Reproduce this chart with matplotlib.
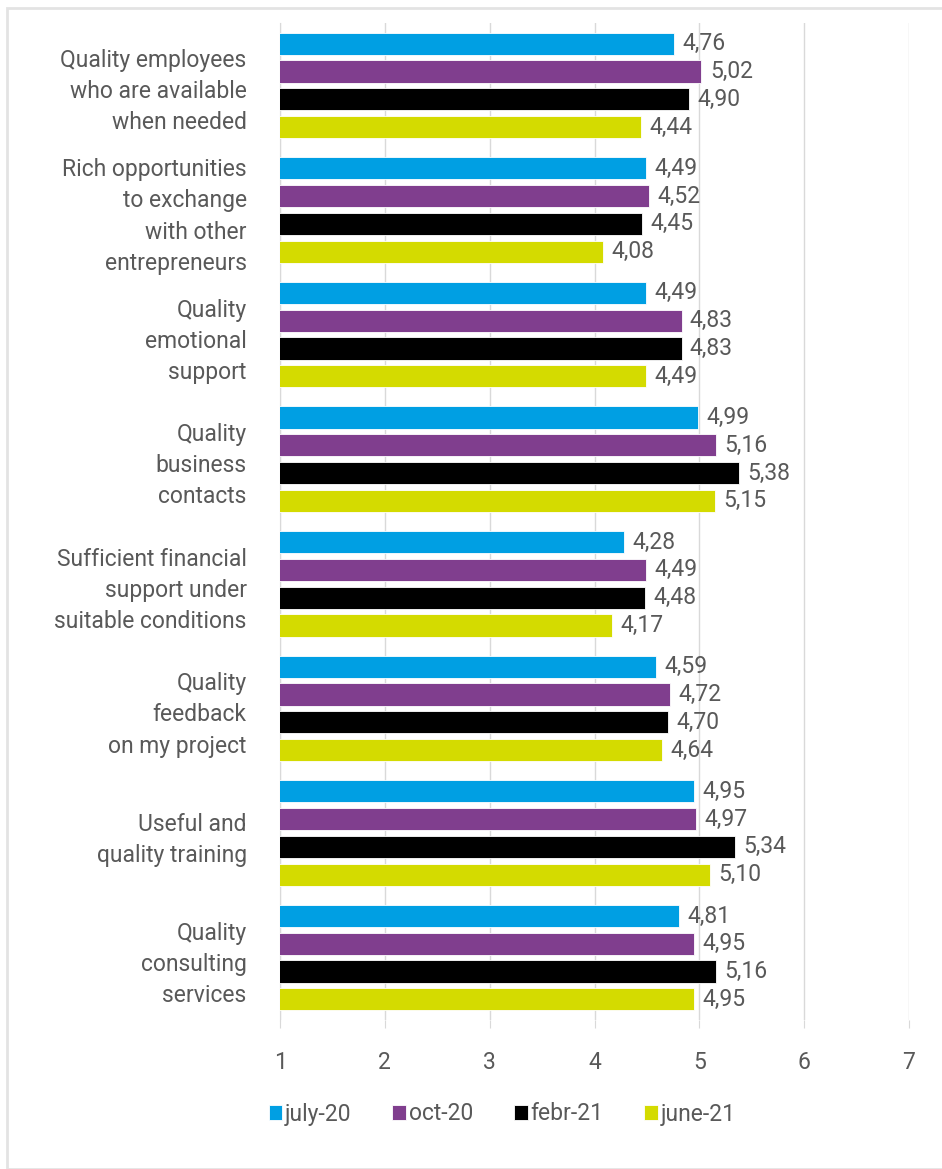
import numpy as np
import matplotlib.pyplot as plt
from matplotlib.patches import Rectangle

plt.rcParams['font.family'] = ['Roboto', 'DejaVu Sans']

categories = [
    'Quality employees\nwho are available\nwhen needed',
    'Rich opportunities\nto exchange\nwith other\nentrepreneurs',
    'Quality\nemotional\nsupport',
    'Quality\nbusiness\ncontacts',
    'Sufficient financial\nsupport under\nsuitable conditions',
    'Quality\nfeedback\non my project',
    'Useful and\nquality training',
    'Quality\nconsulting\nservices',
]
series = ['july-20', 'oct-20', 'febr-21', 'june-21']
july_20 = [4.76, 4.49, 4.49, 4.99, 4.28, 4.59, 4.95, 4.81]
oct_20 = [5.02, 4.52, 4.83, 5.16, 4.49, 4.72, 4.97, 4.95]
febr_21 = [4.90, 4.45, 4.83, 5.38, 4.48, 4.70, 5.34, 5.16]
june_21 = [4.44, 4.08, 4.49, 5.15, 4.17, 4.64, 5.10, 4.95]
colors = ['#009FE3', '#803E8E', '#000000', '#D4DB00']

text_col = '#595959'
grid_col = '#D9D9D9'
fs = 16.5

fig = plt.figure(figsize=(9.42, 11.69), dpi=100)
fig.patches.append(Rectangle((7 / 942, 0), 2, 1 - 8 / 1169, transform=fig.transFigure,
                             fill=False, edgecolor='#E3E3E3', linewidth=2))
ax = fig.add_axes([280 / 942, 1 - 1020 / 1169, 629 / 942, 997 / 1169])

y = np.arange(len(categories))
step = 0.223
height = 0.178
for i, (vals, c, name) in enumerate(zip([july_20, oct_20, febr_21, june_21], colors, series)):
    pos = y + (i - 1.5) * step
    ax.barh(pos, vals, height=height, color=c, edgecolor='white', linewidth=0.6,
            label=name, zorder=3)
    for p, v in zip(pos, vals):
        ax.text(v + 0.08, p, f'{v:.2f}'.replace('.', ','), va='center', ha='left',
                fontsize=fs, color=text_col)

ax.set_xlim(1, 7)
ax.set_ylim(len(categories) - 0.5, -0.5)
ax.set_xticks(range(1, 8))
ax.set_yticks(y)
ax.set_yticklabels(categories, fontsize=fs, color=text_col, linespacing=1.45)
ax.tick_params(axis='y', length=0, pad=24)
ax.tick_params(axis='x', length=6, color=grid_col, labelsize=fs, labelcolor=text_col, pad=16)
ax.grid(axis='x', color=grid_col, linewidth=1, zorder=0)
for s in ['top', 'right', 'bottom']:
    ax.spines[s].set_visible(False)
ax.spines['left'].set_color(grid_col)

ax.legend(loc='center', bbox_to_anchor=(502 / 942, 1 - 1114 / 1169),
          bbox_transform=fig.transFigure, ncol=4, frameon=False, fontsize=fs,
          labelcolor=text_col, handlelength=0.6, handleheight=0.6, handletextpad=0.1,
          columnspacing=1.8)

fig.savefig('out.png', dpi=100)
